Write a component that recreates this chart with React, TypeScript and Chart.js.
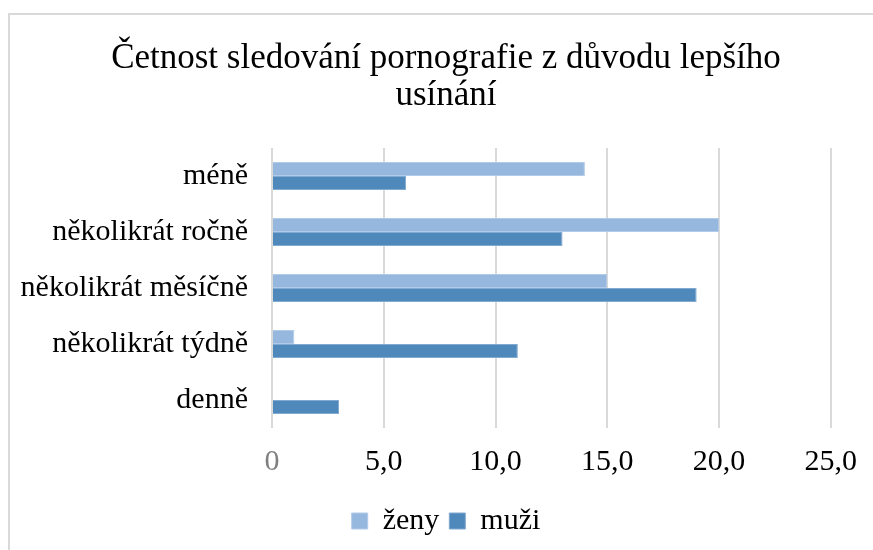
import React, { useEffect, useRef } from 'react';
import { Chart, registerables } from 'chart.js';

Chart.register(...registerables);

const categories = ['méně', 'několikrát ročně', 'několikrát měsíčně', 'několikrát týdně', 'denně'];
const zenyValues = [14, 20, 15, 1, 0];
const muziValues = [6, 13, 19, 11, 3];
const seriesNames = ['ženy', 'muži'];
const xTickValues = [0, 5, 10, 15, 20, 25];
const titleLines = ['Četnost sledování pornografie z důvodu lepšího', 'usínání'];

const FONT = "'Liberation Serif', 'Times New Roman', serif";

export default function App() {
  const ref = useRef<HTMLCanvasElement | null>(null);

  useEffect(() => {
    if (!ref.current) return;
    const chart = new Chart(ref.current, {
      type: 'bar',
      data: {
        labels: categories,
        datasets: [
          {
            label: seriesNames[0],
            data: zenyValues,
            backgroundColor: '#96b7de',
            borderColor: '#b3cbe8',
            borderWidth: 1,
            categoryPercentage: 0.5,
            barPercentage: 1,
          },
          {
            label: seriesNames[1],
            data: muziValues,
            backgroundColor: '#4f89bc',
            borderColor: '#82a9d0',
            borderWidth: 1,
            categoryPercentage: 0.5,
            barPercentage: 1,
          },
        ],
      },
      options: {
        indexAxis: 'y',
        animation: false,
        responsive: false,
        maintainAspectRatio: false,
        layout: { padding: { left: 19, right: 0, top: 40, bottom: 4 } },
        plugins: {
          title: {
            display: true,
            text: titleLines,
            color: '#000',
            font: { family: FONT, size: 35, weight: 'normal', lineHeight: 1.06 },
            padding: { top: 0, bottom: 33.8 },
          },
          legend: {
            position: 'bottom',
            labels: {
              boxWidth: 16,
              boxHeight: 16,
              color: '#000',
              font: { family: FONT, size: 30 },
              padding: 10,
            },
          },
          tooltip: { enabled: false },
        },
        scales: {
          x: {
            min: 0,
            max: 25,
            afterBuildTicks: (scale: any) => {
              scale.ticks = xTickValues.map((v) => ({ value: v }));
            },
            ticks: {
              padding: 16,
              font: { family: FONT, size: 30 },
              color: (ctx: any) => (ctx.tick && ctx.tick.value === 0 ? '#808080' : '#000'),
              callback: (v: any) => (Number(v) === 0 ? '0' : Number(v).toFixed(1).replace('.', ',')),
            },
            grid: { color: '#d9d9d9', lineWidth: 2, drawTicks: false },
            border: { display: false },
          },
          y: {
            afterFit: (scale: any) => {
              scale.width = 253;
            },
            ticks: {
              padding: 24,
              color: '#000',
              font: { family: FONT, size: 30 },
            },
            grid: { display: false, drawTicks: false },
            border: { display: false },
          },
          y2: {
            type: 'category',
            position: 'right',
            display: true,
            ticks: { display: false },
            grid: { display: false, drawTicks: false },
            border: { display: false },
            afterFit: (scale: any) => {
              scale.width = 39;
            },
          },
        },
      },
    });
    return () => chart.destroy();
  }, []);

  return (
    <div
      style={{
        position: 'fixed',
        left: 0,
        top: 0,
        width: 873,
        height: 550,
        background: '#fff',
        overflow: 'hidden',
      }}
    >
      <div
        style={{
          position: 'absolute',
          left: 8,
          top: 13,
          right: 0,
          bottom: 0,
          borderTop: '2px solid #d9d9d9',
          borderLeft: '2px solid #d9d9d9',
        }}
      />
      <canvas
        ref={ref}
        width={873}
        height={550}
        style={{ position: 'absolute', left: 0, top: 0, display: 'block' }}
      />
    </div>
  );
}
